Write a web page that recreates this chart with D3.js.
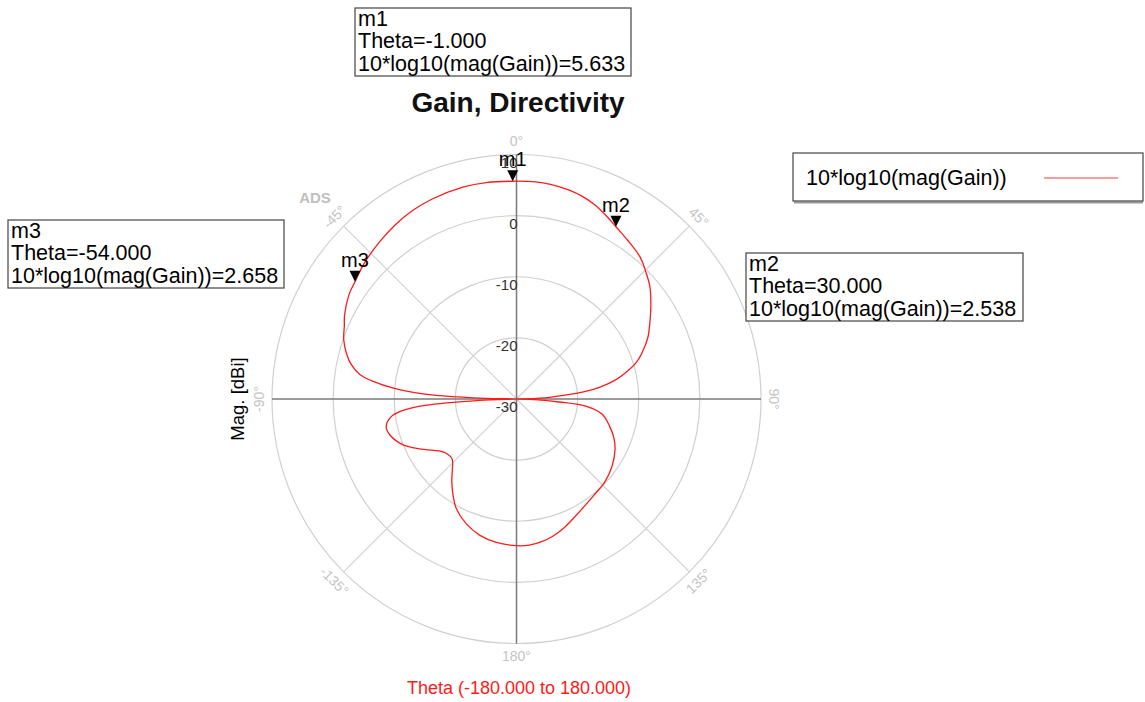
<!DOCTYPE html>
<html>
<head>
<meta charset="utf-8">
<script src="https://cdn.jsdelivr.net/npm/d3@7"></script>
<style>
  body { margin: 0; background: #fff; }
  text { font-family: "Liberation Sans", Arial, sans-serif; }
</style>
</head>
<body>
<div id="chart"></div>
<script>
// gain pattern (theta in deg, 10*log10(mag(Gain)) in dBi)
const thetaDeg = [-180, -172, -165, -158, -151, -147, -142, -138, -133, -128, -124, -118, -112, -106, -102, -98, -96, -94, -92, -90,
  -89, -88, -87, -85, -83, -81, -78, -75, -71, -67, -64, -58, -54, -48, -41, -35, -29, -23, -14, -8, -1,
  5, 9, 14, 18, 22, 26, 30, 35, 41, 45, 50, 56, 60, 65, 70, 73, 76, 79, 82, 84, 87, 89, 90,
  92, 94, 96, 100, 106, 112, 117, 125, 133, 141, 148, 155, 160, 165, 170, 175]
const gainDb = [-6.0, -6.3, -6.9, -8.0, -9.6, -11.0, -12.8, -14.3, -15.6, -15.5, -14.8, -12.5, -10.0, -8.5, -8.2, -9.3, -11.0, -15.0, -24.0, -30,
  -25.0, -20.5, -15.0, -9.8, -6.4, -4.0, -2.3, -1.2, -0.1, 0.6, 1.3, 2.3, 2.658, 3.4, 4.1, 4.7, 5.2, 5.5, 5.75, 5.75, 5.633,
  5.65, 5.55, 5.25, 4.85, 4.25, 3.4, 2.538, 1.7, 0.8, -0.2, -1.5, -3.5, -4.8, -6.3, -8.2, -9.5, -11.3, -13.4, -16.3, -19.0, -24.6, -28.0, -30,
  -27.0, -23.0, -18.5, -15.8, -14.2, -12.8, -11.9, -10.9, -10.2, -9.8, -9.2, -8.3, -7.5, -6.8, -6.3, -6.0]

const markerNames = ["m1", "m2", "m3"]
const markerTheta = [-1, 30, -54]
const markerGain = [5.633, 2.538, 2.658]

const ringTicks = [-30, -20, -10, 0, 10]
const angleTicks = [0, 45, 90, 135, 180, -135, -90, -45]
const spokeAngles = [45, 135, -135, -45]

const width = 1145, height = 702
const cx = 516.5, cy = 399, R = 244.5

const svg = d3.select("#chart").append("svg")
  .attr("width", width).attr("height", height)

const rScale = d3.scaleLinear().domain([-30, 10]).range([0, R]).clamp(true)
const rad = d => d * Math.PI / 180

const g = svg.append("g").attr("transform", `translate(${cx},${cy})`)

// rings
g.selectAll(".ring").data(ringTicks.filter(d => d > -30))
  .enter().append("circle")
  .attr("r", d => rScale(d))
  .attr("fill", "none").attr("stroke", "#d0d0d0").attr("stroke-width", 1.2)

// diagonal spokes
g.selectAll(".spoke").data(spokeAngles)
  .enter().append("line")
  .attr("x2", d => R * Math.sin(rad(d)))
  .attr("y2", d => -R * Math.cos(rad(d)))
  .attr("stroke", "#d3d3d3").attr("stroke-width", 1.2)

// main axes
g.append("line").attr("x1", -R).attr("x2", R).attr("stroke", "#7a7a7a").attr("stroke-width", 1.5)
g.append("line").attr("y1", -R).attr("y2", R).attr("stroke", "#7a7a7a").attr("stroke-width", 1.5)

// angle labels, rotated along the circle
g.selectAll(".alab").data(angleTicks)
  .enter().append("text")
  .attr("transform", d => {
    const rr = R + 13
    const x = rr * Math.sin(rad(d)), y = -rr * Math.cos(rad(d))
    let rot = d
    if (Math.abs(d) > 90) rot = d > 0 ? d - 180 : d + 180
    if (Math.abs(d) === 180) rot = 0
    return `translate(${x},${y}) rotate(${rot})`
  })
  .attr("text-anchor", "middle").attr("dy", "0.35em")
  .attr("font-size", 14).attr("fill", "#c4c4c4")
  .text(d => d + "°")

// ring labels
g.selectAll(".rlab").data(ringTicks)
  .enter().append("text")
  .attr("x", 1).attr("y", d => -rScale(d) + 13)
  .attr("text-anchor", "end")
  .attr("font-size", 15).attr("fill", "#333")
  .text(d => d)

// gain curve
const pts = thetaDeg.map((t, i) => [rad(t), rScale(gainDb[i])])
const line = d3.lineRadial().curve(d3.curveCatmullRomClosed.alpha(0.5))
g.append("path").attr("d", line(pts))
  .attr("fill", "none").attr("stroke", "#ff1a1a").attr("stroke-width", 1.3)

// markers
const mk = g.selectAll(".mk").data(markerNames).enter().append("g")
  .attr("transform", (d, i) => {
    const r = rScale(markerGain[i]), a = rad(markerTheta[i])
    return `translate(${r * Math.sin(a)},${-r * Math.cos(a)})`
  })
mk.append("path").attr("d", "M0,0 L-5.5,-11 L5.5,-11 Z").attr("fill", "#000")
mk.append("text").attr("y", -15).attr("text-anchor", "middle")
  .attr("font-size", 20).attr("fill", "#000").text(d => d)

// marker readout boxes
const boxX = [355, 746, 8]
const boxY = [8, 253, 220]
const boxW = [276, 277, 276]
markerNames.forEach((m, i) => {
  const b = svg.append("g").attr("transform", `translate(${boxX[i]},${boxY[i]})`)
  b.append("rect").attr("width", boxW[i]).attr("height", 68)
    .attr("fill", "#fff").attr("stroke", "#444").attr("stroke-width", 1.2)
  const lines = [m, "Theta=" + markerTheta[i].toFixed(3), "10*log10(mag(Gain))=" + markerGain[i].toFixed(3)]
  b.selectAll("text").data(lines).enter().append("text")
    .attr("x", 3).attr("y", (d, j) => 18 + j * 22.3)
    .attr("font-size", 21.5).attr("fill", "#000")
    .text(d => d)
})

// title
svg.append("text").attr("x", 518).attr("y", 112).attr("text-anchor", "middle")
  .attr("font-size", 28).attr("font-weight", "bold").attr("fill", "#111")
  .text("Gain, Directivity")

// watermark
svg.append("text").attr("x", 315).attr("y", 203).attr("text-anchor", "middle")
  .attr("font-size", 15).attr("font-weight", "bold").attr("fill", "#c0c0c0")
  .text("ADS")

// y axis label
svg.append("text").attr("transform", "translate(244,399) rotate(-90)")
  .attr("text-anchor", "middle").attr("font-size", 18.5).attr("fill", "#000")
  .text("Mag. [dBi]")

// x axis label
svg.append("text").attr("x", 519).attr("y", 694).attr("text-anchor", "middle")
  .attr("font-size", 18).attr("fill", "#ff1a1a")
  .text("Theta (-180.000 to 180.000)")

// legend
const lg = svg.append("g").attr("transform", "translate(793,153)")
lg.append("line").attr("x1", 1).attr("x2", 350).attr("y1", 49.5).attr("y2", 49.5)
  .attr("stroke", "#999").attr("stroke-width", 2)
lg.append("rect").attr("width", 350).attr("height", 48)
  .attr("fill", "#fff").attr("stroke", "#444").attr("stroke-width", 1.2)
lg.append("text").attr("x", 13).attr("y", 32).attr("font-size", 21.5).attr("fill", "#000")
  .text("10*log10(mag(Gain))")
lg.append("line").attr("x1", 251).attr("x2", 325).attr("y1", 25).attr("y2", 25)
  .attr("stroke", "#ff7a7a").attr("stroke-width", 1.6)
</script>
</body>
</html>
